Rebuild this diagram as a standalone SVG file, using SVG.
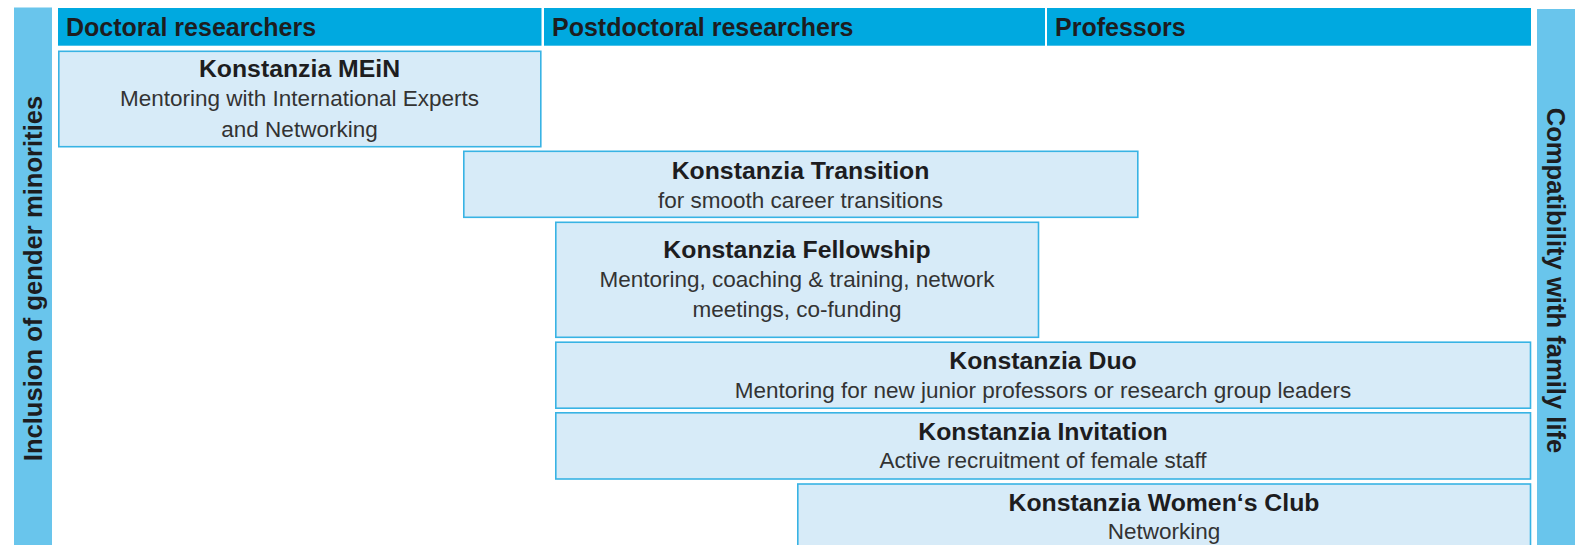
<svg xmlns="http://www.w3.org/2000/svg" width="1579" height="545" viewBox="0 0 1579 545">
<style>
.bar{fill:#69c5ec}
.hdr{fill:#00a9e0}
.box{fill:#d7ebf8;stroke:#38b3e4;stroke-width:1.6}
.ht{font-family:"Liberation Sans",Arial,sans-serif;font-weight:bold;font-size:25px;fill:#1d1d1f}
.side{font-family:"Liberation Sans",Arial,sans-serif;font-weight:bold;font-size:25.6px;fill:#1d1d1f;text-anchor:middle}
.t{font-family:"Liberation Sans",Arial,sans-serif;font-weight:bold;font-size:24.8px;fill:#1d1d1f;text-anchor:middle}
.b{font-family:"Liberation Sans",Arial,sans-serif;font-size:22.5px;fill:#333333;text-anchor:middle}
</style>
<rect width="1579" height="545" fill="#ffffff"/>
<g id="side-left">
<rect class="bar" x="14" y="7.5" width="38" height="540"/>
<text class="side" transform="translate(42,278.5) rotate(-90)">Inclusion of gender minorities</text>
</g>
<g id="side-right">
<rect class="bar" x="1537" y="9" width="38" height="540"/>
<text class="side" transform="translate(1547,280.5) rotate(90)">Compatibility with family life</text>
</g>
<g id="header-doctoral">
<rect class="hdr" x="58" y="8" width="483.5" height="37.7"/>
<text class="ht" x="66" y="35.7">Doctoral researchers</text>
</g>
<g id="header-postdoctoral">
<rect class="hdr" x="544" y="8" width="501" height="37.7"/>
<text class="ht" x="552" y="35.7">Postdoctoral researchers</text>
</g>
<g id="header-professors">
<rect class="hdr" x="1047" y="8" width="484" height="37.7"/>
<text class="ht" x="1055" y="35.7">Professors</text>
</g>
<g id="node-mein">
<rect class="box" x="58.8" y="51.3" width="482" height="95.4"/>
<text class="t" x="299.5" y="76.7">Konstanzia MEiN</text>
<text class="b" x="299.5" y="106">Mentoring with International Experts</text>
<text class="b" x="299.5" y="137">and Networking</text>
</g>
<g id="node-transition">
<rect class="box" x="463.8" y="151.3" width="674" height="66"/>
<text class="t" x="800.5" y="179">Konstanzia Transition</text>
<text class="b" x="800.5" y="208.3">for smooth career transitions</text>
</g>
<g id="node-fellowship">
<rect class="box" x="555.8" y="222.3" width="482.7" height="115"/>
<text class="t" x="797" y="258.3">Konstanzia Fellowship</text>
<text class="b" x="797" y="286.7">Mentoring, coaching &amp; training, network</text>
<text class="b" x="797" y="316.7">meetings, co-funding</text>
</g>
<g id="node-duo">
<rect class="box" x="555.8" y="342.2" width="974.7" height="66"/>
<text class="t" x="1043" y="369.3">Konstanzia Duo</text>
<text class="b" x="1043" y="397.7">Mentoring for new junior professors or research group leaders</text>
</g>
<g id="node-invitation">
<rect class="box" x="555.8" y="412.8" width="974.7" height="66.2"/>
<text class="t" x="1043" y="440">Konstanzia Invitation</text>
<text class="b" x="1043" y="468.3">Active recruitment of female staff</text>
</g>
<g id="node-womens-club">
<rect class="box" x="797.8" y="484" width="732.7" height="70"/>
<text class="t" x="1164" y="511">Konstanzia Women‘s Club</text>
<text class="b" x="1164" y="539.3">Networking</text>
</g>
<g id="connectors"/>
</svg>
